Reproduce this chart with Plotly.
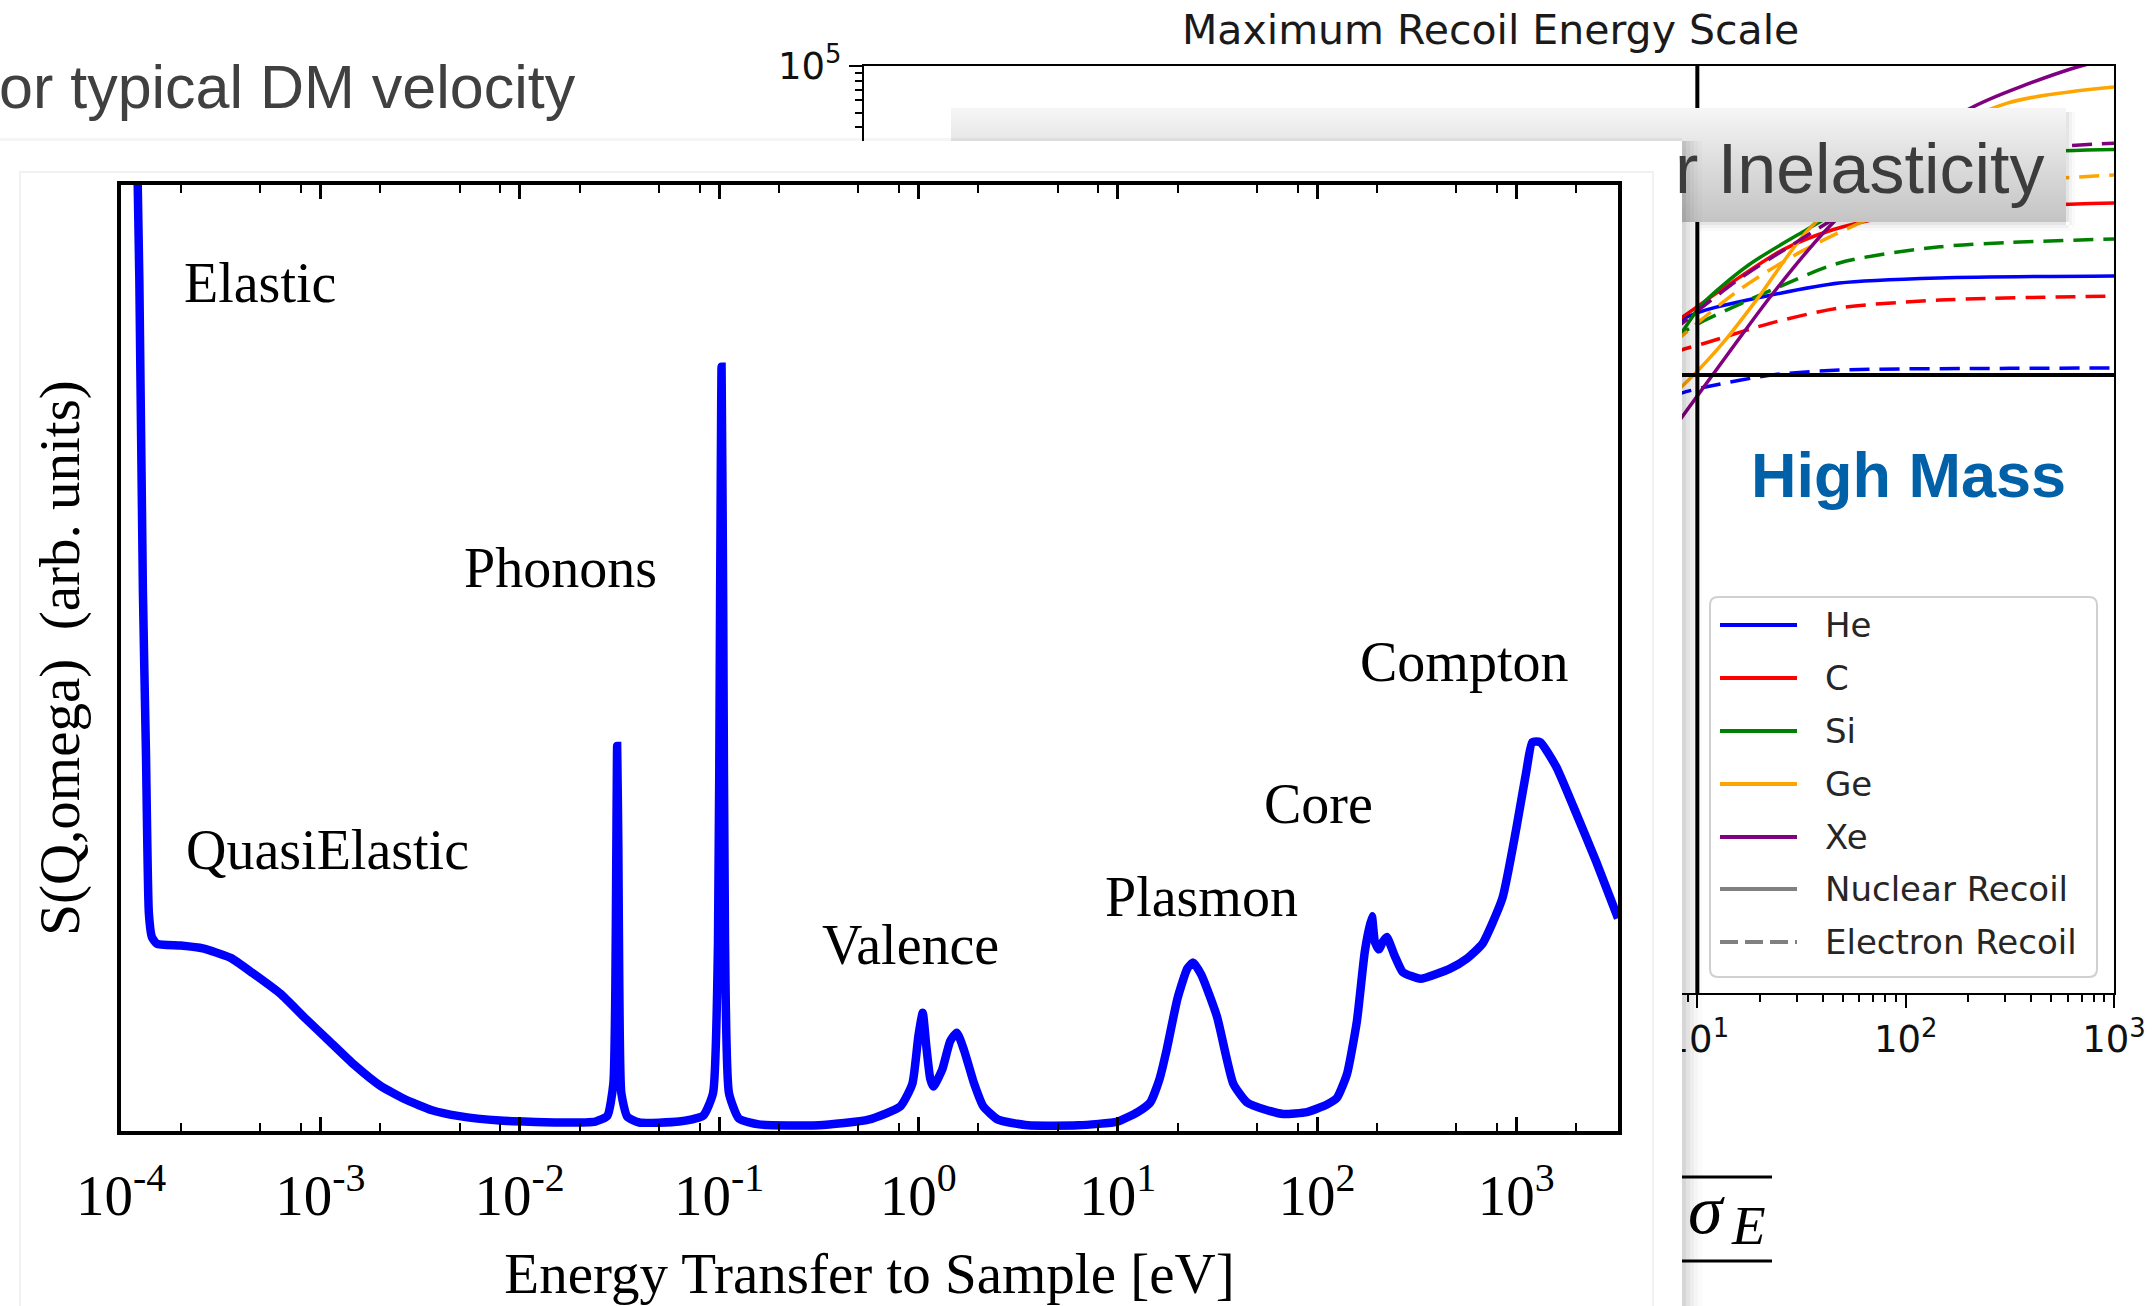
import plotly.graph_objects as go

W, H = 2154, 1306


def fx(p):
    return p / W


def fy(p):
    return 1 - p / H


# ======================= DATA =======================
# ---- Foreground: S(Q, omega) sketch ----
energy_transfer_ev = [
    1.202e-4, 1.236e-4, 1.288e-4, 1.334e-4, 1.380e-4, 1.429e-4, 1.514e-4, 1.995e-4, 2.570e-4, 3.548e-4,
    4.571e-4, 6.310e-4, 8.318e-4, 1.122e-3, 1.479e-3, 1.995e-3, 2.692e-3, 3.631e-3, 4.898e-3, 7.943e-3,
    1.585e-2, 2.399e-2, 2.754e-2, 2.951e-2, 3.020e-2, 3.055e-2, 3.083e-2, 3.126e-2, 3.162e-2, 3.236e-2,
    3.467e-2, 3.981e-2, 6.310e-2, 8.318e-2, 9.333e-2, 9.886e-2, 0.1012, 0.1030, 0.1050, 0.1072,
    0.1122, 0.1259, 0.1585, 0.3162, 0.5623, 0.8128, 0.9333, 1.0, 1.052, 1.096,
    1.148, 1.189, 1.318, 1.445, 1.560, 1.698, 1.905, 2.118, 2.512, 3.548,
    6.310, 10.0, 12.59, 14.55, 16.22, 17.62, 19.95, 22.39, 23.93, 26.30,
    31.48, 38.02, 44.67, 56.23, 67.61, 89.13, 112.2, 125.9, 141.3, 158.5,
    173.8, 188.4, 195.0, 204.2, 213.8, 223.9, 245.5, 269.2, 331.1, 467.7,
    562.3, 676.1, 851.1, 1000, 1122, 1202, 1318, 1585, 1932, 2512, 3236,
]
s_q_omega = [
    1.05, 0.90, 0.57, 0.40, 0.23, 0.205, 0.198, 0.196, 0.193, 0.183,
    0.167, 0.145, 0.120, 0.094, 0.070, 0.048, 0.033, 0.022, 0.016, 0.011,
    0.009, 0.010, 0.016, 0.05, 0.15, 0.30, 0.407, 0.30, 0.15, 0.04,
    0.015, 0.009, 0.010, 0.016, 0.04, 0.20, 0.55, 0.808, 0.55, 0.20,
    0.04, 0.013, 0.007, 0.006, 0.012, 0.026, 0.05, 0.10, 0.125, 0.09,
    0.055, 0.047, 0.065, 0.095, 0.104, 0.085, 0.05, 0.026, 0.012, 0.006,
    0.006, 0.010, 0.020, 0.030, 0.055, 0.086, 0.14, 0.172, 0.178, 0.165,
    0.121, 0.05, 0.03, 0.022, 0.018, 0.020, 0.028, 0.035, 0.06, 0.116,
    0.19, 0.227, 0.20, 0.192, 0.200, 0.205, 0.185, 0.168, 0.161, 0.172,
    0.182, 0.198, 0.246, 0.320, 0.38, 0.411, 0.411, 0.385, 0.343, 0.285, 0.225,
]
spectrum_tick_vals = [1e-4, 1e-3, 1e-2, 1e-1, 1e0, 1e1, 1e2, 1e3]
spectrum_tick_text = ["10<sup>-4</sup>", "10<sup>-3</sup>", "10<sup>-2</sup>", "10<sup>-1</sup>",
                      "10<sup>0</sup>", "10<sup>1</sup>", "10<sup>2</sup>", "10<sup>3</sup>"]
spectrum_minor_mult = [2, 5, 8]
region_names = ["Elastic", "Phonons", "QuasiElastic", "Valence", "Plasmon", "Core", "Compton"]

# ---- Background: Maximum Recoil Energy Scale ----
he_nr_mass = [7.586, 8.375, 10.94, 22.75, 47.97, 145.9, 1000]
he_nr_energy = [1995, 2270, 2630, 3296, 3936, 4246, 4375]
he_er_mass = [7.586, 8.375, 10.94, 22.75, 47.97, 316.2, 1000]
he_er_energy = [724.4, 763.8, 835.6, 1000, 1076, 1104, 1109]
c_nr_mass = [7.586, 8.375, 15.85, 25.70, 44.67, 79.43, 199.5, 1000]
c_nr_energy = [2138, 2344, 4266, 6457, 8710, 10470, 12020, 12970]
c_er_mass = [7.586, 8.375, 10.94, 22.75, 47.97, 145.9, 1000]
c_er_energy = [1380, 1452, 1611, 2173, 2716, 3055, 3243]
si_nr_mass = [7.586, 8.375, 10.45, 17.62, 33.27, 63.10, 158.5, 398.1, 1000]
si_nr_energy = [1622, 1871, 2838, 5152, 8690, 14130, 22910, 27540, 28840]
si_er_mass = [7.586, 8.375, 10.94, 22.75, 47.97, 145.9, 1000]
si_er_energy = [1698, 1862, 2270, 3548, 5309, 6761, 7586]
ge_nr_mass = [7.586, 8.375, 10.12, 13.65, 19.72, 34.36, 100, 307.6, 1000]
ge_nr_energy = [724.4, 835.6, 1076, 1687, 3199, 8810, 28180, 57540, 73110]
ge_er_mass = [7.586, 8.375, 15.85, 31.62, 79.43, 251.2, 1000]
ge_er_energy = [1585, 1778, 3548, 6310, 11220, 16980, 19680]
xe_nr_mass = [7.586, 8.375, 14.13, 22.75, 41.50, 89.13, 197.2, 641.2, 1000]
xe_nr_energy = [436.5, 527.2, 1387, 3296, 8690, 22390, 51880, 97050, 112200]
xe_er_mass = [7.586, 8.375, 15.85, 31.62, 79.43, 251.2, 1000]
xe_er_energy = [1905, 2138, 4169, 7586, 15850, 26920, 31620]

targets = ["He", "C", "Si", "Ge", "Xe"]
target_colors = ["#0000ff", "#ff0000", "#008000", "#ffa500", "#800080"]
recoil_kinds = ["Nuclear Recoil", "Electron Recoil"]
mass_range = [1e-3, 1e3]
energy_range = [1e-1, 1e5]
divider_mass = 10
divider_energy = 1000
bg_x_ticks = [1e-3, 1e-2, 1e-1, 1e0, 1e1, 1e2, 1e3]
bg_x_tick_text = ["10<sup>-3</sup>", "10<sup>-2</sup>", "10<sup>-1</sup>", "10<sup>0</sup>",
                  "10<sup>1</sup>", "10<sup>2</sup>", "10<sup>3</sup>"]
bg_y_ticks = [1e-1, 1e0, 1e1, 1e2, 1e3, 1e4, 1e5]
bg_y_tick_text = ["10<sup>-1</sup>", "10<sup>0</sup>", "10<sup>1</sup>", "10<sup>2</sup>",
                  "10<sup>3</sup>", "10<sup>4</sup>", "10<sup>5</sup>"]

# ======================= FIGURE =======================
fig = go.Figure()

DASH = "20px,10px"
curves = [
    (he_nr_mass, he_nr_energy, 0, "solid"), (he_er_mass, he_er_energy, 0, DASH),
    (c_nr_mass, c_nr_energy, 1, "solid"), (c_er_mass, c_er_energy, 1, DASH),
    (si_nr_mass, si_nr_energy, 2, "solid"), (si_er_mass, si_er_energy, 2, DASH),
    (ge_nr_mass, ge_nr_energy, 3, "solid"), (ge_er_mass, ge_er_energy, 3, DASH),
    (xe_nr_mass, xe_nr_energy, 4, "solid"), (xe_er_mass, xe_er_energy, 4, DASH),
]
for m, e, k, d in curves:
    fig.add_trace(go.Scatter(
        x=m, y=e, mode="lines", xaxis="x", yaxis="y",
        line=dict(color=target_colors[k], width=3.5, dash=d, shape="spline", smoothing=0.8),
        name=targets[k], showlegend=False, hoverinfo="skip"))

# reference lines of the background chart
fig.add_trace(go.Scatter(x=mass_range, y=[divider_energy, divider_energy], mode="lines",
                         xaxis="x", yaxis="y", line=dict(color="black", width=4),
                         showlegend=False, hoverinfo="skip"))
fig.add_trace(go.Scatter(x=[divider_mass, divider_mass], y=energy_range, mode="lines",
                         xaxis="x", yaxis="y", line=dict(color="black", width=4),
                         showlegend=False, hoverinfo="skip"))

# slide title box ("... Inelasticity") with vertical gradient
fig.add_trace(go.Scatter(
    x=[0, 1, 1, 0, 0], y=[0, 0, 1, 1, 0], mode="lines", xaxis="x2", yaxis="y2",
    fill="toself", line=dict(width=0),
    fillgradient=dict(type="vertical", start=0, stop=1,
                      colorscale=[[0, "#c4c4c4"], [0.5, "#dcdcdc"], [1, "#f6f6f6"]]),
    showlegend=False, hoverinfo="skip"))

# white foreground panel (faint inner picture frame)
fig.add_trace(go.Scatter(
    x=[20, 20, 1653, 1653], y=[1306, 172, 172, 1306], mode="lines", xaxis="x3", yaxis="y3",
    line=dict(color="#ededed", width=1.5), showlegend=False, hoverinfo="skip"))

# foreground spectrum
fig.add_trace(go.Scatter(
    x=energy_transfer_ev, y=s_q_omega, mode="lines", xaxis="x4", yaxis="y4",
    line=dict(color="#0000ff", width=8.5, shape="spline", smoothing=0.5),
    name="S(Q,omega)", showlegend=False, hoverinfo="skip"))

bg_minor_x = [k * 10 ** p for p in range(-3, 3) for k in range(2, 10)]
bg_minor_y = [k * 10 ** p for p in range(-1, 5) for k in range(2, 10)]
spec_minor = [k * 10 ** p for p in range(-4, 4) for k in spectrum_minor_mult if k * 10 ** p < 3200]

dejavu = "DejaVu Sans"
serif = "Liberation Serif"
sans = "Liberation Sans"

fig.update_layout(
    template="none",
    width=W, height=H, margin=dict(l=0, r=0, t=0, b=0, pad=0), autosize=False,
    paper_bgcolor="white", plot_bgcolor="white", showlegend=False,
    xaxis=dict(domain=[fx(864), fx(2114)], anchor="y", type="log", range=[-3, 3], automargin=False,
               showgrid=False, zeroline=False, showline=True, linecolor="black", linewidth=2, mirror=True,
               ticks="outside", ticklen=13, tickwidth=2, tickcolor="black",
               tickmode="array", tickvals=bg_x_ticks, ticktext=bg_x_tick_text,
               tickfont=dict(family=dejavu, size=37, color="#111111"),
               minor=dict(ticks="outside", ticklen=7, tickwidth=1.5, tickcolor="black",
                          tickmode="array", tickvals=bg_minor_x, showgrid=False)),
    yaxis=dict(domain=[fy(993), fy(66)], anchor="x", type="log", range=[-1, 5], automargin=False,
               showgrid=False, zeroline=False, showline=True, linecolor="black", linewidth=2, mirror=True,
               ticks="outside", ticklen=13, tickwidth=2, tickcolor="black",
               tickmode="array", tickvals=bg_y_ticks, ticktext=bg_y_tick_text,
               tickfont=dict(family=dejavu, size=37, color="#111111"),
               minor=dict(ticks="outside", ticklen=7, tickwidth=1.5, tickcolor="black",
                          tickmode="array", tickvals=bg_minor_y, showgrid=False)),
    xaxis2=dict(domain=[fx(951), fx(2066)], anchor="y2", range=[0, 1], visible=False, automargin=False),
    yaxis2=dict(domain=[fy(222), fy(108)], anchor="x2", range=[0, 1], visible=False, automargin=False),
    xaxis3=dict(domain=[0, fx(1682)], anchor="y3", range=[0, 1682], visible=False, automargin=False),
    yaxis3=dict(domain=[0, fy(141)], anchor="x3", range=[1306, 141], visible=False, automargin=False),
    xaxis4=dict(domain=[fx(121), fx(1618)], anchor="y4", type="log", range=[-4, 3.51], automargin=False,
                showgrid=False, zeroline=False, showline=True, linecolor="black", linewidth=3.5,
                mirror="allticks", ticks="inside", ticklen=14, tickwidth=2.5, tickcolor="black",
                tickmode="array", tickvals=spectrum_tick_vals, ticktext=spectrum_tick_text,
                tickfont=dict(family=serif, size=57, color="black"), ticklabelstandoff=12,
                minor=dict(ticks="inside", ticklen=8, tickwidth=2, tickcolor="black",
                           tickmode="array", tickvals=spec_minor, showgrid=False),
                title=dict(text="Energy Transfer to Sample [eV]",
                           font=dict(family=serif, size=57, color="black"), standoff=28)),
    yaxis4=dict(domain=[fy(1131), fy(185)], anchor="x4", range=[0, 1], automargin=False,
                showgrid=False, zeroline=False, showline=True, linecolor="black", linewidth=3.5,
                mirror=True, ticks="", showticklabels=False,
                title=dict(text="S(Q,omega)\u00a0\u00a0(arb. units)",
                           font=dict(family=serif, size=57, color="black"), standoff=20)),
)

# ---------------- shapes ----------------
shapes = []


def prect(x0, y0, x1, y1, fill):
    shapes.append(dict(type="rect", xref="paper", yref="paper", x0=fx(x0), x1=fx(x1), y0=fy(y1), y1=fy(y0),
                       fillcolor=fill, layer="above", line=dict(width=0)))


# shadow of the foreground panel
for i, a in enumerate([0.16, 0.11, 0.07, 0.04, 0.015]):
    prect(1682 + 4 * i, 141, 1686 + 4 * i, 1306, "rgba(0,0,0,%.3f)" % a)
prect(0, 138, 1682, 141, "rgba(0,0,0,0.04)")
# shadow of the title box
for i, a in enumerate([0.10, 0.05, 0.02]):
    prect(1700, 222 + 3 * i, 2066 + 3 * i, 225 + 3 * i, "rgba(0,0,0,%.3f)" % a)
    prect(2066 + 3 * i, 112, 2069 + 3 * i, 222 + 3 * i, "rgba(0,0,0,%.3f)" % a)

# legend of background chart
lx0, ly0, lx1, ly1, r = 1710, 597, 2097, 977, 8
path = ("M{a},{b} L{c},{b} Q{e},{b} {e},{f} L{e},{g} Q{e},{h} {c},{h} L{a},{h} "
        "Q{i},{h} {i},{g} L{i},{f} Q{i},{b} {a},{b} Z").format(
    a=fx(lx0 + r), b=fy(ly0), c=fx(lx1 - r), e=fx(lx1), f=fy(ly0 + r), g=fy(ly1 - r),
    h=fy(ly1), i=fx(lx0))
shapes.append(dict(type="path", path=path, xref="paper", yref="paper", layer="above",
                   fillcolor="white", line=dict(color="#d0d0d0", width=2)))
row_y = [625, 678, 731, 784, 837, 889, 942]
legend_labels = targets + recoil_kinds
legend_colors = target_colors + ["#808080", "#808080"]
legend_dash = ["solid"] * 6 + ["18px,7px"]
for yy, col, dd in zip(row_y, legend_colors, legend_dash):
    shapes.append(dict(type="line", xref="paper", yref="paper", layer="above",
                       x0=fx(1720), x1=fx(1797), y0=fy(yy), y1=fy(yy),
                       line=dict(color=col, width=4, dash=dd)))

# sigma_E fraction bars
for yy in [1177, 1261]:
    shapes.append(dict(type="line", xref="paper", yref="paper", layer="above",
                       x0=fx(1682), x1=fx(1772), y0=fy(yy), y1=fy(yy),
                       line=dict(color="black", width=3)))

fig.update_layout(shapes=shapes)

# ---------------- annotations ----------------
anns = []


def ann(text, x, y, size, family, color="black", xanchor="left", yanchor="middle", weight=None):
    f = dict(size=size, family=family, color=color)
    if weight:
        f["weight"] = weight
    anns.append(dict(text=text, x=fx(x), y=fy(y), xref="paper", yref="paper", showarrow=False,
                     xanchor=xanchor, yanchor=yanchor, font=f))


ann("Maximum Recoil Energy Scale", 1490, 30, 41, dejavu, "#1a1a1a", xanchor="center")
ann("or typical DM velocity", -3, 87, 61, sans, "#404040")
ann("r Inelasticity", 2047, 169, 70, sans, "#3c3c3c", xanchor="right")
ann("High Mass", 1908, 475, 63, sans, "#0060a8", xanchor="center", weight="bold")
for yy, lab in zip(row_y, legend_labels):
    ann(lab, 1823, yy, 34, dejavu, "#262626")
ann("<i>σ</i>", 1706, 1209, 70, serif, "black", xanchor="center")
ann("<i>E</i>", 1748, 1225, 55, serif, "black", xanchor="center")

label_pos = [(182, 283), (462, 568), (184, 850), (820, 945), (1103, 897), (1262, 804), (1358, 662)]
for name, (x, y) in zip(region_names, label_pos):
    ann(name, x, y, 56, serif)

fig.update_layout(annotations=anns)

fig.write_html("out.html")
